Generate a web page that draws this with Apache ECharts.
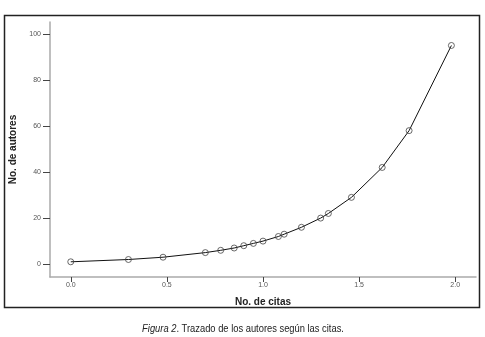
<!DOCTYPE html>
<html>
<head>
<meta charset="UTF-8">
<title>Figura 2</title>
<style>
body{margin:0;background:#fff;}
</style>
</head>
<body>
<div id="main" style="width:485px;height:337px;"></div>
<script src="https://cdn.jsdelivr.net/npm/echarts@6/dist/echarts.min.js"></script>
<script type="text/javascript">
// datos
var citas = [0.0, 0.30, 0.48, 0.70, 0.78, 0.85, 0.90, 0.95, 1.0, 1.08, 1.11, 1.20, 1.30, 1.34, 1.46, 1.62, 1.76, 1.98];
var autores = [1, 2, 3, 5, 6, 7, 8, 9, 10, 12, 13, 16, 20, 22, 29, 42, 58, 95];
var xTicks = [0, 0.5, 1, 1.5, 2];
var yTicks = [0, 20, 40, 60, 80, 100];

var puntos = [];
for (var i = 0; i < citas.length; i++) {
	puntos.push([citas[i], autores[i]]);
}

var myChart = echarts.init(document.getElementById('main'));
myChart.setOption({
	animation: false,
	backgroundColor: '#fff',
	textStyle: { fontFamily: 'Liberation Sans, Arial, sans-serif' },
	graphic: [{
		type: 'rect',
		shape: { x: 4.5, y: 15.5, width: 475, height: 292 },
		style: { fill: 'none', stroke: '#222', lineWidth: 1.5 },
		silent: true
	}, {
		// pie de figura, algo estrecho como en el original
		type: 'text',
		x: 243,
		y: 329,
		scaleX: 0.85,
		silent: true,
		style: {
			text: '{i|Figura 2}. Trazado de los autores según las citas.',
			align: 'center',
			verticalAlign: 'middle',
			fontFamily: 'Liberation Sans, Arial, sans-serif',
			fontSize: 11,
			fill: '#222',
			rich: {
				i: { fontFamily: 'Liberation Sans, Arial, sans-serif', fontSize: 11, fontStyle: 'italic', fill: '#222' }
			}
		}
	}],
	grid: { left: 47, right: 9, top: 22, bottom: 60 },
	xAxis: {
		type: 'value',
		min: -0.108,
		max: 2.108,
		name: 'No. de citas',
		nameLocation: 'middle',
		nameGap: 20,
		nameTextStyle: { fontSize: 10, fontWeight: 'bold', color: '#222' },
		splitLine: { show: false },
		axisLine: { show: true, onZero: false, lineStyle: { color: '#aaa', width: 1.5 } },
		axisTick: { show: true, length: 5, customValues: xTicks, lineStyle: { color: '#444' } },
		axisLabel: {
			customValues: xTicks,
			fontSize: 7, color: '#555', margin: 5,
			formatter: function (v) { return v.toFixed(1); }
		}
	},
	yAxis: {
		type: 'value',
		min: -5.6,
		max: 105.2,
		name: 'No. de autores',
		nameLocation: 'middle',
		nameGap: 32,
		nameTextStyle: { fontSize: 10, fontWeight: 'bold', color: '#222' },
		splitLine: { show: false },
		axisLine: { show: true, onZero: false, lineStyle: { color: '#aaa', width: 1.5 } },
		axisTick: { show: true, length: 7, customValues: yTicks, lineStyle: { color: '#444' } },
		axisLabel: { customValues: yTicks, fontSize: 7, color: '#555', margin: 9 }
	},
	series: [{
		type: 'line',
		data: puntos,
		symbol: 'circle',
		symbolSize: 6,
		showAllSymbol: true,
		lineStyle: { color: '#111', width: 1 },
		itemStyle: { color: 'rgba(0,0,0,0)', borderColor: '#444', borderWidth: 0.8 }
	}]
});
</script>
</body>
</html>
